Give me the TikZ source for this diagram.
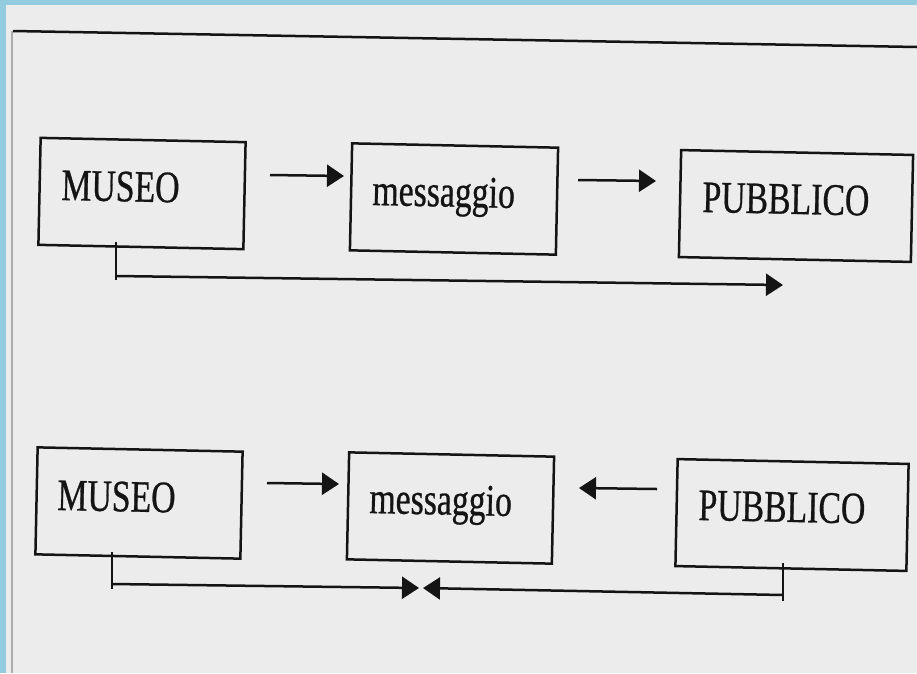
\documentclass[tikz,border=0pt]{standalone}
\usepackage{fontspec}
\newfontfamily\scanfont[FakeStretch=0.75,FakeBold=0.6]{Liberation Serif}
\usetikzlibrary{arrows.meta}
\definecolor{scanblue}{RGB}{146,204,222}
\definecolor{paper}{RGB}{236,236,236}
\definecolor{ink}{RGB}{20,20,20}
\begin{document}
\begin{tikzpicture}[x=1pt,y=-1pt,
  box/.style={draw=ink, line width=2.5pt, rectangle, minimum width=#1pt,
    minimum height=107pt, inner sep=0pt, rotate=-1.2},
  word/.style={font=\scanfont\fontsize{45}{50}\selectfont, text=ink,
    anchor=base west, inner sep=0pt, rotate=-1.2},
  arr/.style={draw=ink, line width=2.5pt,
    -{Triangle[length=17pt,width=22pt]}},
  wire/.style={draw=ink, line width=2.5pt}]
\useasboundingbox (0,0) rectangle (917,673);
% scanned page background
\fill[scanblue] (0,0) rectangle (917,673);
\fill[paper] (6,5) rectangle (917,673);
\draw[ink, line width=2.5pt] (13,31) -- (917,47);
\draw[gray!65, line width=2.5pt] (12,31) -- (12,673);

% top row
\node[box=205] (m1) at (142,193.5) {};
\node[box=206] (g1) at (454,199) {};
\node[box=232] (p1) at (796,206) {};
\node[word] (tm1) at (61,200) {MUSEO};
\node[word] (tg1) at (372,205) {messaggio};
\node[word] (tp1) at (702,212) {PUBBLICO};
\coordinate (a1s) at (270,175); \coordinate (a1e) at (344,176);
\coordinate (a2s) at (578,180); \coordinate (a2e) at (656,181);
\draw[arr] (a1s) -- (a1e);
\draw[arr] (a2s) -- (a2e);
\coordinate (f1a) at (116,242); \coordinate (f1b) at (116,280);
\coordinate (f1c) at (116,276); \coordinate (f1d) at (783,285);
\draw[wire] (f1a) -- (f1b);
\draw[arr] (f1c) -- (f1d);

% bottom row
\node[box=205] (m2) at (139,503) {};
\node[box=205] (g2) at (450.5,508) {};
\node[box=231] (p2) at (792,515) {};
\node[word] (tm2) at (57,510) {MUSEO};
\node[word] (tg2) at (369,513) {messaggio};
\node[word] (tp2) at (698,520) {PUBBLICO};
\coordinate (b1s) at (267,483); \coordinate (b1e) at (339,484);
\coordinate (b2s) at (657,489); \coordinate (b2e) at (579,488);
\draw[arr] (b1s) -- (b1e);
\draw[arr] (b2s) -- (b2e);
\coordinate (f2a) at (112,552); \coordinate (f2b) at (112,589);
\coordinate (f2c) at (112,584); \coordinate (f2d) at (419,588);
\draw[wire] (f2a) -- (f2b);
\draw[arr] (f2c) -- (f2d);
\coordinate (f3a) at (783,563); \coordinate (f3b) at (783,601);
\coordinate (f3c) at (783,595); \coordinate (f3d) at (423,588);
\draw[wire] (f3a) -- (f3b);
\draw[arr] (f3c) -- (f3d);
\end{tikzpicture}
\end{document}
